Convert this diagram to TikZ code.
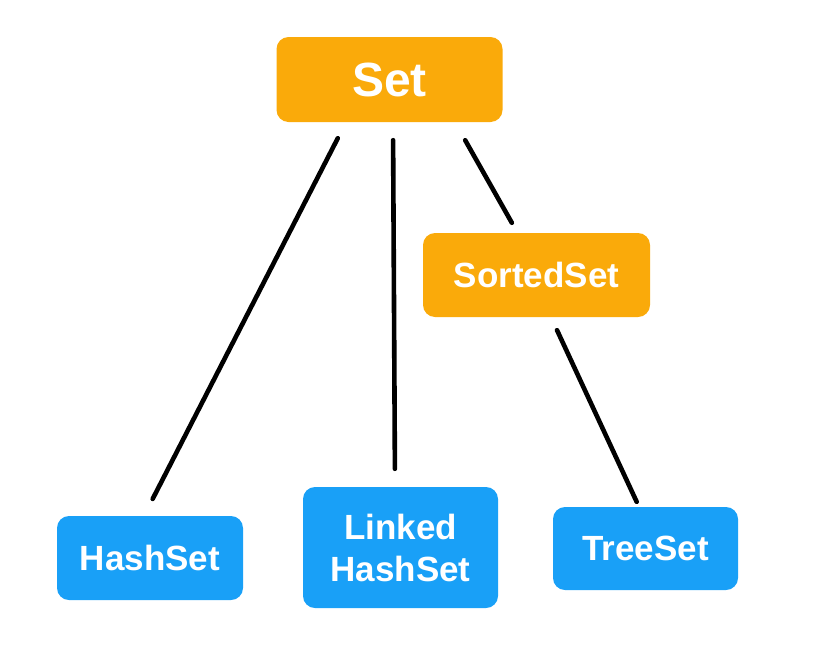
\documentclass[tikz,border=0pt]{standalone}
\usepackage{fontspec}
\setmainfont{Liberation Sans}
\usepackage{tikz}
\usepackage{xcolor}
\definecolor{setorange}{RGB}{250,170,10}
\definecolor{setblue}{RGB}{25,160,247}

\begin{document}
\begin{tikzpicture}[x=1pt,y=-1pt,
  box/.style={rounded corners=12pt,inner sep=0pt,text=white,align=center,
    font=\bfseries\fontsize{35}{42}\selectfont},
  iface/.style={box,fill=setorange},
  impl/.style={box,fill=setblue},
  link/.style={line width=4.6pt,line cap=round,black}]
\useasboundingbox (0,0) rectangle (825,659);
\node[iface,minimum width=226pt,minimum height=85pt,font=\bfseries\fontsize{48}{56}\selectfont] (set) at (389.5,79.5) {Set};
\node[iface,minimum width=227pt,minimum height=84pt] (sorted) at (536.5,275) {SortedSet};
\node[impl,minimum width=186pt,minimum height=84pt] (hash) at (150,558) {HashSet};
\node[impl,minimum width=195pt,minimum height=121pt] (linked) at (400.5,547.5) {Linked\\HashSet};
\node[impl,minimum width=185pt,minimum height=83pt] (tree) at (645.5,548.5) {TreeSet};
\draw[link,shorten <=18pt,shorten >=19pt]([xshift=-43.5pt]set.south)--([xshift=-6pt]hash.north);
\draw[link,shorten <=18pt,shorten >=18pt]([xshift=3.5pt]set.south)--([xshift=-5.5pt]linked.north);
\draw[link,shorten <=20.7pt,shorten >=11.5pt]([xshift=65.5pt]set.south)--([xshift=-19pt]sorted.north);
\draw[link,shorten <=14.3pt,shorten >=5.5pt]([xshift=14.5pt]sorted.south)--([xshift=-6.5pt]tree.north);
\end{tikzpicture}
\end{document}
